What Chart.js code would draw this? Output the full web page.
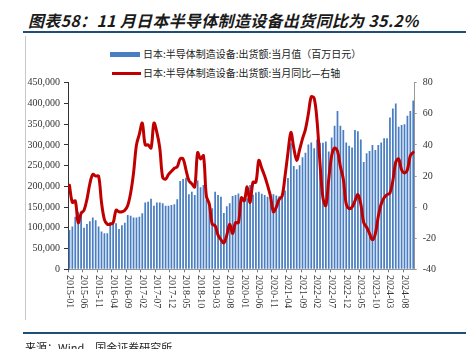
<!DOCTYPE html>
<html><head><meta charset="utf-8">
<script src="https://cdn.jsdelivr.net/npm/chart.js@4.4.1/dist/chart.umd.min.js"></script>
<style>
html,body{margin:0;padding:0;background:#fff;}
#wrap{position:relative;width:466px;height:349px;overflow:hidden;background:#fff;}
#title{position:absolute;left:28px;top:8px;font-family:"Noto Sans CJK SC",sans-serif;font-weight:bold;font-style:italic;font-size:16px;color:#1a1a1a;white-space:nowrap;letter-spacing:0.3px;}
#tline{position:absolute;left:23px;top:31px;width:443px;height:2px;background:#1F4E79;}
#vline{position:absolute;left:25px;top:36px;width:1px;height:284px;background:#c8c8c8;}
#bline{position:absolute;left:23px;top:332px;width:443px;height:2px;background:#1F4E79;}
#src{position:absolute;left:25px;top:339px;font-family:"Noto Sans CJK SC",sans-serif;font-size:11px;color:#222;white-space:nowrap;}
.lg{position:absolute;font-family:"Noto Sans CJK SC",sans-serif;font-size:10px;color:#222;white-space:nowrap;line-height:12px;}
#lgbar{position:absolute;left:110px;top:52px;width:30px;height:5px;background:#4A7EC2;}
#lgline{position:absolute;left:112px;top:72px;width:29px;height:3px;background:#C00000;}
canvas{position:absolute;left:0;top:0;}
</style></head>
<body><div id="wrap">
<div id="title">图表58：11 月日本半导体制造设备出货同比为 35.2%</div>
<div id="tline"></div>
<div id="vline"></div>
<div id="lgbar"></div><div class="lg" style="left:143px;top:48px;">日本:半导体制造设备:出货额:当月值（百万日元）</div>
<div id="lgline"></div><div class="lg" style="left:143px;top:67px;">日本:半导体制造设备:出货额:当月同比—右轴</div>
<canvas id="c" width="466" height="349"></canvas>
<div id="bline"></div>
<div id="src">来源：Wind，国金证券研究所</div>
</div>
<script>
const months = [
"2015-01","2015-02","2015-03","2015-04","2015-05","2015-06","2015-07","2015-08","2015-09","2015-10","2015-11","2015-12",
"2016-01","2016-02","2016-03","2016-04","2016-05","2016-06","2016-07","2016-08","2016-09","2016-10","2016-11","2016-12",
"2017-01","2017-02","2017-03","2017-04","2017-05","2017-06","2017-07","2017-08","2017-09","2017-10","2017-11","2017-12",
"2018-01","2018-02","2018-03","2018-04","2018-05","2018-06","2018-07","2018-08","2018-09","2018-10","2018-11","2018-12",
"2019-01","2019-02","2019-03","2019-04","2019-05","2019-06","2019-07","2019-08","2019-09","2019-10","2019-11","2019-12",
"2020-01","2020-02","2020-03","2020-04","2020-05","2020-06","2020-07","2020-08","2020-09","2020-10","2020-11","2020-12",
"2021-01","2021-02","2021-03","2021-04","2021-05","2021-06","2021-07","2021-08","2021-09","2021-10","2021-11","2021-12",
"2022-01","2022-02","2022-03","2022-04","2022-05","2022-06","2022-07","2022-08","2022-09","2022-10","2022-11","2022-12",
"2023-01","2023-02","2023-03","2023-04","2023-05","2023-06","2023-07","2023-08","2023-09","2023-10","2023-11","2023-12",
"2024-01","2024-02","2024-03","2024-04","2024-05","2024-06","2024-07","2024-08","2024-09","2024-10","2024-11"];

const shipments = [
95000,103000,127000,139000,139000,100000,109000,116000,125000,118000,103000,91000,
87000,87000,114000,116000,111000,97000,106000,112000,131000,129000,125000,125000,
127000,135000,161000,163000,170000,153000,161000,161000,159000,153000,153000,155000,
157000,169000,213000,218000,221000,181000,187000,179000,214000,198000,203000,167000,
151000,147000,187000,179000,175000,136000,152000,159000,177000,179000,183000,175000,
171000,171000,203000,180000,185000,187000,182000,179000,175000,182000,181000,178000,
176000,176000,190000,220000,304000,249000,241000,251000,270000,281000,301000,306000,
292000,313000,305000,305000,308000,284000,318000,346000,382000,346000,336000,306000,
298000,294000,336000,333000,313000,259000,280000,285000,300000,288000,300000,306000,
316000,316000,366000,388000,400000,344000,348000,350000,370000,382000,407000];

const yoy = [
14,3,4,-10,-4,-2,5,15,21,20,20,3,
-8,-11,-11,-10,-2,-3,-3,-2,1,9,22,40,
47,54,40,40,38,54,48,38,19,18,21,23,
25,26,31,31,24,17,15,13,35,31,33,7,
2,-11,-12,-18,-21,-23,-18,-11,-17,-10,-10,6,
4,13,3,16,16,30,25,20,14,7,-3,0,
5,7,20,35,48,38,30,37,44,50,60,71,
70,55,28,6,1,18,33,38,36,26,18,2,
-1,0,4,8,2,-10,-13,-17,-21,-17,-6,2,
6,8,9,17,29,31,24,22,24,33,35.2];

const leftTicks = [0,50000,100000,150000,200000,250000,300000,350000,400000,450000];
const rightTicks = [-40,-20,0,20,40,60,80];

const xLabelPlugin = {
  id:'xlabels',
  afterDraw(chart){
    const ctx = chart.ctx, sx = chart.scales.x;
    ctx.save();
    ctx.font = '10px "Liberation Serif", serif';
    ctx.fillStyle = '#333';
    ctx.textAlign = 'left';
    ctx.textBaseline = 'middle';
    months.forEach((m,i)=>{
      if(i%5!==0) return;
      const x = sx.getPixelForValue(i);
      ctx.save();
      ctx.translate(x, 275);
      ctx.rotate(Math.PI/2);
      ctx.fillText(m,0,0);
      ctx.restore();
    });
    ctx.restore();
  }
};

new Chart(document.getElementById('c'),{
  type:'bar',
  data:{labels:months,datasets:[
    {type:'line',label:'日本:半导体制造设备:出货额:当月同比—右轴',data:yoy,yAxisID:'y1',borderColor:'#C00000',borderWidth:3,pointRadius:0,tension:0.35,order:0,borderJoinStyle:'round',borderCapStyle:'round'},
    {type:'bar',label:'日本:半导体制造设备:出货额:当月值（百万日元）',data:shipments,yAxisID:'y',backgroundColor:'#4A7EC2',barPercentage:0.6,categoryPercentage:1,order:1}
  ]},
  options:{
    responsive:false,animation:false,
    layout:{padding:{top:82.7,left:0,right:0,bottom:0}},
    plugins:{legend:{display:false},tooltip:{enabled:false}},
    scales:{
      x:{offset:true,
        grid:{display:true,drawOnChartArea:false,drawTicks:true,tickLength:3,offset:true,
          color:(c)=> (c.index%5===0)?'#777':'rgba(0,0,0,0)'},
        border:{display:true,color:'#999'},
        ticks:{display:false,autoSkip:false},
        afterFit:(s)=>{s.height=79.7;}
      },
      y:{position:'left',min:0,max:450000,
        afterBuildTicks:(s)=>{s.ticks=leftTicks.map(v=>({value:v}));},
        ticks:{font:{family:'"Liberation Serif", serif',size:10},color:'#333',padding:4},
        grid:{drawOnChartArea:false,drawTicks:true,tickLength:4,color:'#333'},
        border:{display:true,color:'#333'},
        afterFit:(s)=>{s.width=68;}
      },
      y1:{position:'right',min:-40,max:80,
        afterBuildTicks:(s)=>{s.ticks=rightTicks.map(v=>({value:v}));},
        ticks:{font:{family:'"Liberation Serif", serif',size:10},color:'#333',padding:6},
        grid:{drawOnChartArea:false,drawTicks:true,tickLength:2,color:'#999'},
        border:{display:true,color:'#999'},
        afterFit:(s)=>{s.width=51.3;}
      }
    }
  },
  plugins:[xLabelPlugin]
});
</script>
</body></html>
